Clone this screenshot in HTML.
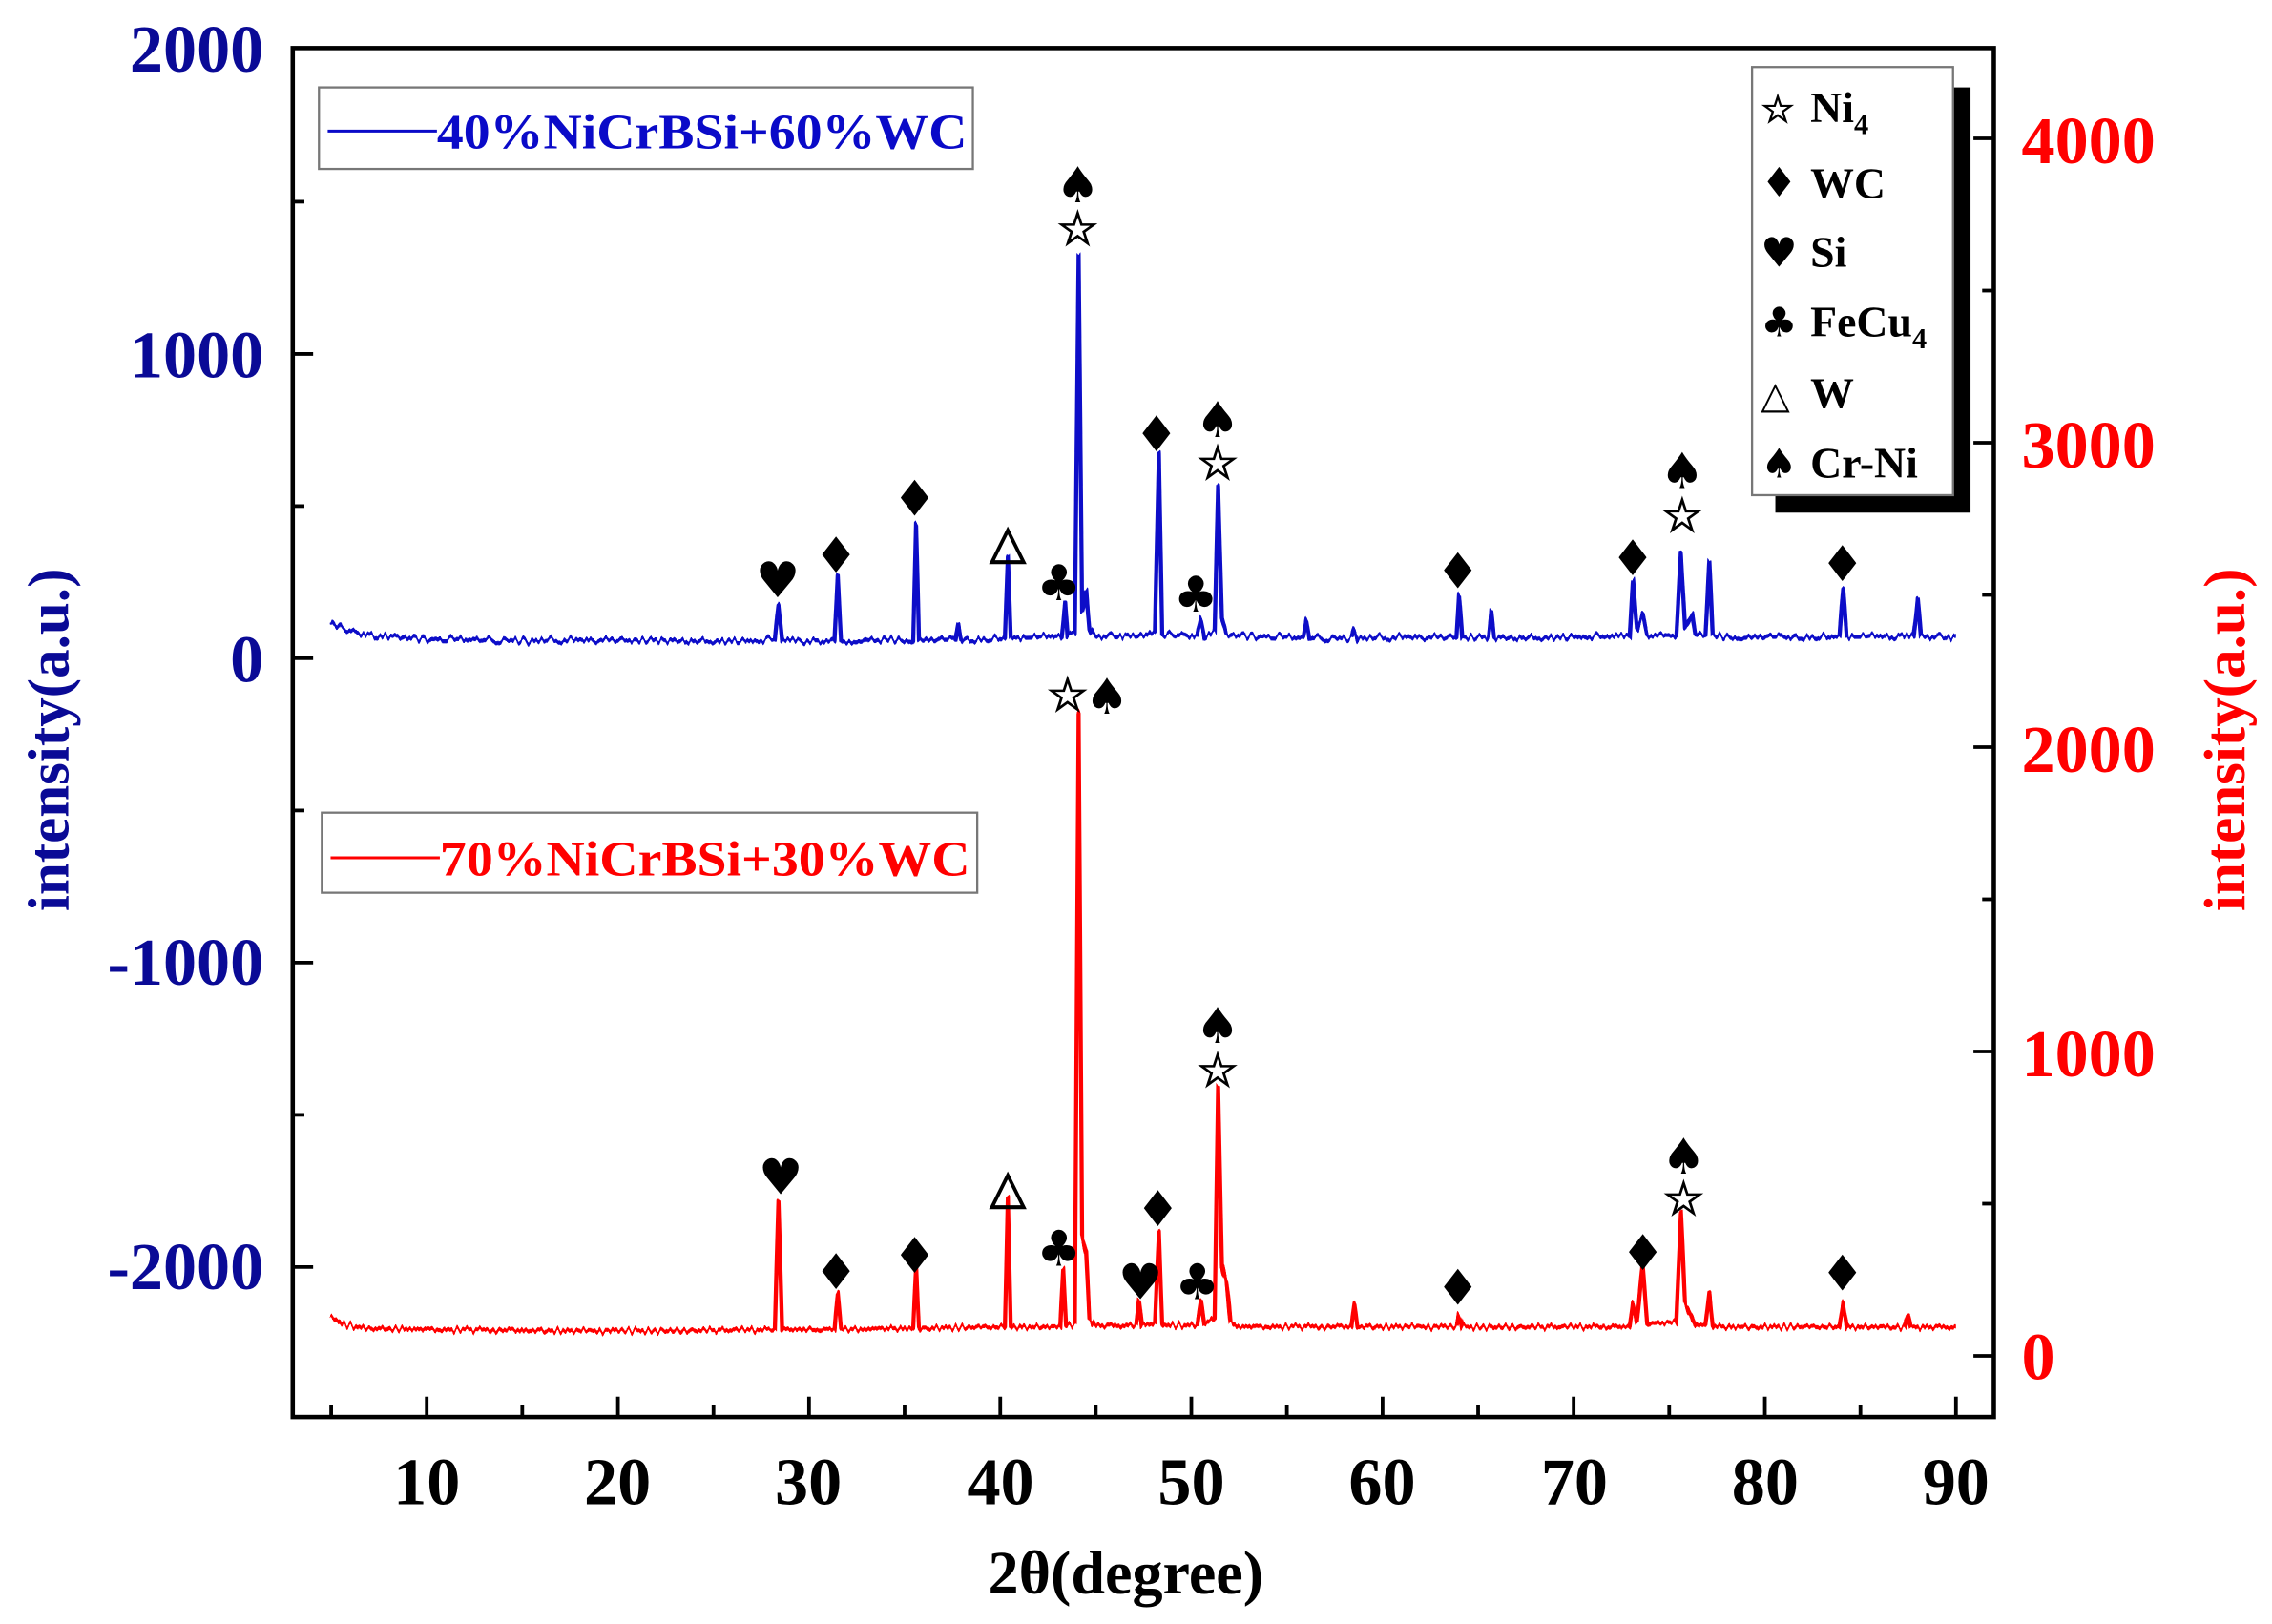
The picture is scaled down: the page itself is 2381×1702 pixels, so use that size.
<!DOCTYPE html>
<html><head><meta charset="utf-8"><style>
html,body{margin:0;padding:0;background:#fff;}
svg{display:block;font-family:"Liberation Serif",serif;font-weight:bold;}
</style></head><body>
<svg width="2381" height="1702" viewBox="0 0 1560 1115.1" xmlns="http://www.w3.org/2000/svg">
<defs>
<filter id="nz" filterUnits="userSpaceOnUse" x="0" y="0" width="1560" height="1116">
<feTurbulence type="fractalNoise" baseFrequency="0.45 0.01" numOctaves="1" seed="3" result="t"/>
<feColorMatrix in="t" type="matrix" values="1 0 0 0 0  0 0 0 0 0.5  0 0 0 0 0  0 0 0 0 1" result="m"/>
<feDisplacementMap in="SourceGraphic" in2="m" scale="9" xChannelSelector="G" yChannelSelector="R"/>
</filter>
</defs>
<rect x="0" y="0" width="1560" height="1116" fill="#fff"/>
<g filter="url(#nz)" fill="none" stroke-width="2.8" stroke-linejoin="round">
<polyline stroke="#0a0ac8" points="227,427 235,432 245,435 260,437 300,439 400,440 520,440 532,439 534.5,415 537,440 573,440 575.2,395 577.5,440 627,439 629,360 631,439 656,439 658,428 660,439 690,438 692,382 694,438 729,437 731.4,413 733,436 738,435 740.6,175 743,420 745.8,405 748,432 752,437 780,437 793,433 795.7,311 798,436 822,437 824.6,425 827,437 834,434 836.4,333 839,425 842,436 895,438 897,426 899,438 928,438 930,432 932,438 1000,438 1001.8,408 1004,438 1022,438 1024,420 1026,438 1119,437 1121.2,398 1124,432 1127.8,422 1131,436 1151,436 1154.1,380 1157,430 1161.9,422 1164,436 1171,436 1173.7,385 1176,437 1263,437 1265.6,404 1268,437 1314,437 1316.8,411 1319,437 1343,438"/>
<polyline stroke="#ff0000" points="227,904 235,909 250,912 300,913 400,914 532,913 534.5,825 537,913 573,913 575.2,887 577.5,913 627,912 629,870 631,912 690,911 692,822 694,911 728,911 730,872 732,910 738,909 740.6,490 743,850 745.8,860 748,905 752,910 780,910 782.1,893 784,910 793,908 795.7,845 798,910 822,910 824.6,893 827,909 834,905 836.4,745 839,870 842,880 845,908 850,911 928,911 930,895 932,911 1000,911 1001.8,903 1004,911 1119,911 1121.2,895 1124,908 1127.8,868 1131,909 1151,908 1154.1,832 1157,895 1161.9,905 1164,910 1171,910 1173.7,887 1176,911 1263,911 1265.6,895 1268,911 1308,911 1310,903 1312,911 1343,911"/>
</g>
<rect x="201" y="33" width="1168" height="940" fill="none" stroke="#000" stroke-width="3"/>
<g stroke="#000" stroke-width="2.5">
<line x1="227.4" y1="973" x2="227.4" y2="965"/><line x1="293" y1="973" x2="293" y2="959"/>
<line x1="358.6" y1="973" x2="358.6" y2="965"/><line x1="424.3" y1="973" x2="424.3" y2="959"/>
<line x1="489.9" y1="973" x2="489.9" y2="965"/><line x1="555.5" y1="973" x2="555.5" y2="959"/>
<line x1="621.1" y1="973" x2="621.1" y2="965"/><line x1="686.8" y1="973" x2="686.8" y2="959"/>
<line x1="752.4" y1="973" x2="752.4" y2="965"/><line x1="818" y1="973" x2="818" y2="959"/>
<line x1="883.6" y1="973" x2="883.6" y2="965"/><line x1="949.3" y1="973" x2="949.3" y2="959"/>
<line x1="1014.9" y1="973" x2="1014.9" y2="965"/><line x1="1080.5" y1="973" x2="1080.5" y2="959"/>
<line x1="1146.1" y1="973" x2="1146.1" y2="965"/><line x1="1211.8" y1="973" x2="1211.8" y2="959"/>
<line x1="1277.4" y1="973" x2="1277.4" y2="965"/><line x1="1343" y1="973" x2="1343" y2="959"/>
<line x1="201" y1="243" x2="215" y2="243"/><line x1="201" y1="452" x2="215" y2="452"/>
<line x1="201" y1="661" x2="215" y2="661"/><line x1="201" y1="870" x2="215" y2="870"/>
<line x1="201" y1="138.5" x2="209" y2="138.5"/><line x1="201" y1="347.5" x2="209" y2="347.5"/>
<line x1="201" y1="556.5" x2="209" y2="556.5"/><line x1="201" y1="765.5" x2="209" y2="765.5"/>
<line x1="1369" y1="95" x2="1355" y2="95"/><line x1="1369" y1="304" x2="1355" y2="304"/>
<line x1="1369" y1="513" x2="1355" y2="513"/><line x1="1369" y1="722" x2="1355" y2="722"/>
<line x1="1369" y1="931" x2="1355" y2="931"/>
<line x1="1369" y1="199.5" x2="1361" y2="199.5"/><line x1="1369" y1="408.5" x2="1361" y2="408.5"/>
<line x1="1369" y1="617.5" x2="1361" y2="617.5"/><line x1="1369" y1="826.5" x2="1361" y2="826.5"/>
</g>
<g fill="#0a0a96" font-size="46" text-anchor="end">
<text x="181" y="49">2000</text>
<text x="181" y="259">1000</text>
<text x="181" y="468">0</text>
<text x="181" y="676">-1000</text>
<text x="181" y="885">-2000</text>
</g>
<g fill="#ff0000" font-size="46" text-anchor="start">
<text x="1388" y="112">4000</text>
<text x="1388" y="321">3000</text>
<text x="1388" y="530">2000</text>
<text x="1388" y="739">1000</text>
<text x="1388" y="947">0</text>
</g>
<g fill="#000" font-size="46" text-anchor="middle">
<text x="293" y="1033">10</text><text x="424" y="1033">20</text><text x="555" y="1033">30</text>
<text x="687" y="1033">40</text><text x="818" y="1033">50</text><text x="949" y="1033">60</text>
<text x="1081" y="1033">70</text><text x="1212" y="1033">80</text><text x="1343" y="1033">90</text>
</g>
<text x="773" y="1094" font-size="42" text-anchor="middle" fill="#000">2θ(degree)</text>
<text transform="translate(47,508) rotate(-90)" font-size="40" text-anchor="middle" fill="#0a0a96">intensity(a.u.)</text>
<text transform="translate(1541,508) rotate(-90)" font-size="40" text-anchor="middle" fill="#ff0000">intensity(a.u.)</text>
<rect x="219" y="60" width="449" height="56" fill="#fff" stroke="#777" stroke-width="1.5"/>
<line x1="225" y1="90" x2="300" y2="90" stroke="#0a0ac8" stroke-width="2"/>
<text x="300" y="102" font-size="34" fill="#0a0ac8" textLength="364" lengthAdjust="spacingAndGlyphs">40%NiCrBSi+60%WC</text>
<rect x="221" y="558" width="450" height="55" fill="#fff" stroke="#777" stroke-width="1.5"/>
<line x1="227" y1="589" x2="302" y2="589" stroke="#ff0000" stroke-width="2"/>
<text x="302" y="601" font-size="34" fill="#ff0000" textLength="364" lengthAdjust="spacingAndGlyphs">70%NiCrBSi+30%WC</text>
<rect x="1219" y="60" width="134" height="292" fill="#000"/>
<rect x="1203" y="46" width="138" height="294" fill="#fff" stroke="#777" stroke-width="1.5"/>
<g font-size="30" fill="#000">
<text x="1209" y="84" font-size="26" font-family="DejaVu Sans,sans-serif" stroke="#000" stroke-width="0.8">☆</text><text x="1243" y="84">Ni<tspan font-size="20" dy="8">4</tspan></text>
<text x="1209" y="135" font-size="28" font-family="DejaVu Sans,sans-serif">♦</text><text x="1243" y="136">WC</text>
<text x="1209" y="183" font-size="28" font-family="DejaVu Sans,sans-serif">♥</text><text x="1243" y="183">Si</text>
<text x="1209" y="231" font-size="28" font-family="DejaVu Sans,sans-serif">♣</text><text x="1243" y="231">FeCu<tspan font-size="20" dy="8">4</tspan></text>
<text x="1209" y="280" font-size="26" font-family="DejaVu Sans,sans-serif">△</text><text x="1243" y="280">W</text>
<text x="1209" y="328" font-size="28" font-family="DejaVu Sans,sans-serif">♠</text><text x="1243" y="328">Cr-Ni</text>
</g>
<g font-size="34" fill="#000" text-anchor="middle" font-family="DejaVu Sans,sans-serif">
<text x="534" y="410">♥</text><text x="574" y="393">♦</text><text x="628" y="354">♦</text>
<text x="727" y="412">♣</text><text x="740" y="139">♠</text><text x="794" y="310">♦</text>
<text x="821" y="420">♣</text><text x="836" y="300">♠</text><text x="1001" y="404">♦</text>
<text x="1121" y="395">♦</text><text x="1155" y="335">♠</text><text x="1265" y="399">♦</text>
<text x="760" y="490">♠</text><text x="536" y="820">♥</text><text x="574" y="885">♦</text>
<text x="628" y="874">♦</text><text x="727" y="869">♣</text><text x="783" y="892">♥</text>
<text x="795" y="842">♦</text><text x="822" y="892">♣</text><text x="836" y="716">♠</text>
<text x="1001" y="896">♦</text><text x="1128" y="872">♦</text><text x="1156" y="806">♠</text>
<text x="1265" y="886">♦</text>
</g>
<g font-size="32" fill="#000" text-anchor="middle" font-family="DejaVu Sans,sans-serif" stroke="#000" stroke-width="0.9">
<text x="692" y="383">△</text><text x="740" y="168">☆</text><text x="836" y="329">☆</text>
<text x="1155" y="365">☆</text><text x="733" y="488">☆</text><text x="692" y="826">△</text>
<text x="836" y="746">☆</text><text x="1156" y="834">☆</text>
</g>
</svg>
</body></html>
